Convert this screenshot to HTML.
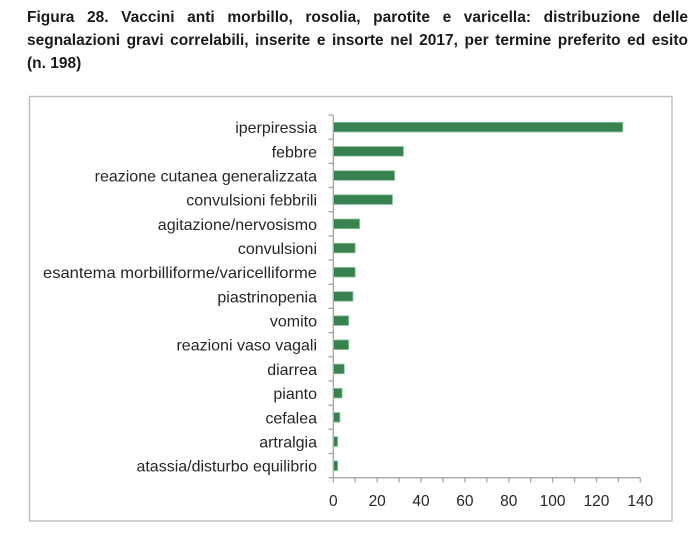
<!DOCTYPE html>
<html>
<head>
<meta charset="utf-8">
<style>
  html, body { margin: 0; padding: 0; background: #ffffff; }
  body { width: 700px; height: 553px; position: relative; overflow: hidden; }
  .title {
    position: absolute; left: 27px; top: 6px; width: 661px;
    font-family: "Liberation Sans", sans-serif; font-weight: bold;
    font-size: 15.5px; line-height: 23px; color: #1a1a1a;
  }
  .title div { white-space: nowrap; }
  .j { text-align: justify; text-align-last: justify; }
  svg { position: absolute; left: 0; top: 0; }
</style>
</head>
<body>
<div class="title">
  <div class="j">Figura 28. Vaccini anti morbillo, rosolia, parotite e varicella: distribuzione delle</div>
  <div class="j">segnalazioni gravi correlabili, inserite e insorte nel 2017, per termine preferito ed esito</div>
  <div>(n. 198)</div>
</div>
<svg width="700" height="553" viewBox="0 0 700 553" xmlns="http://www.w3.org/2000/svg">
  <!-- frame -->
  <rect x="29.5" y="96.5" width="642.5" height="424.5" fill="#ffffff" stroke="#bfbfbf" stroke-width="1.4"/>

  <!-- bars -->
  <g fill="#3a8150" stroke="#8fcca6" stroke-width="0.8">
    <rect x="333.3" y="122.3" width="289.5" height="9.7"/>
    <rect x="333.3" y="146.5" width="70.2" height="9.7"/>
    <rect x="333.3" y="170.7" width="61.4" height="9.7"/>
    <rect x="333.3" y="194.8" width="59.2" height="9.7"/>
    <rect x="333.3" y="219.0" width="26.3" height="9.7"/>
    <rect x="333.3" y="243.2" width="21.9" height="9.7"/>
    <rect x="333.3" y="267.4" width="21.9" height="9.7"/>
    <rect x="333.3" y="291.6" width="19.7" height="9.7"/>
    <rect x="333.3" y="315.8" width="15.4" height="9.7"/>
    <rect x="333.3" y="339.9" width="15.4" height="9.7"/>
    <rect x="333.3" y="364.1" width="11.0" height="9.7"/>
    <rect x="333.3" y="388.3" width="8.8" height="9.7"/>
    <rect x="333.3" y="412.5" width="6.6" height="9.7"/>
    <rect x="333.3" y="436.7" width="4.4" height="9.7"/>
    <rect x="333.3" y="460.9" width="4.4" height="9.7"/>
  </g>

  <!-- axes -->
  <g stroke="#a6a6a6" stroke-width="1.3" fill="none">
    <line x1="333.3" y1="115" x2="333.3" y2="477.7"/>
    <line x1="333.3" y1="477.7" x2="640.3" y2="477.7"/>
    <!-- y ticks -->
    <line x1="328.5" y1="115.0" x2="333.3" y2="115.0"/>
    <line x1="328.5" y1="139.2" x2="333.3" y2="139.2"/>
    <line x1="328.5" y1="163.4" x2="333.3" y2="163.4"/>
    <line x1="328.5" y1="187.5" x2="333.3" y2="187.5"/>
    <line x1="328.5" y1="211.7" x2="333.3" y2="211.7"/>
    <line x1="328.5" y1="235.9" x2="333.3" y2="235.9"/>
    <line x1="328.5" y1="260.1" x2="333.3" y2="260.1"/>
    <line x1="328.5" y1="284.3" x2="333.3" y2="284.3"/>
    <line x1="328.5" y1="308.4" x2="333.3" y2="308.4"/>
    <line x1="328.5" y1="332.6" x2="333.3" y2="332.6"/>
    <line x1="328.5" y1="356.8" x2="333.3" y2="356.8"/>
    <line x1="328.5" y1="381.0" x2="333.3" y2="381.0"/>
    <line x1="328.5" y1="405.2" x2="333.3" y2="405.2"/>
    <line x1="328.5" y1="429.3" x2="333.3" y2="429.3"/>
    <line x1="328.5" y1="453.5" x2="333.3" y2="453.5"/>
    <line x1="328.5" y1="477.7" x2="333.3" y2="477.7"/>
    <!-- x ticks -->
    <line x1="333.3" y1="477.7" x2="333.3" y2="482.5"/>
    <line x1="355.2" y1="477.7" x2="355.2" y2="482.5"/>
    <line x1="377.2" y1="477.7" x2="377.2" y2="482.5"/>
    <line x1="399.1" y1="477.7" x2="399.1" y2="482.5"/>
    <line x1="421.0" y1="477.7" x2="421.0" y2="482.5"/>
    <line x1="443.0" y1="477.7" x2="443.0" y2="482.5"/>
    <line x1="464.9" y1="477.7" x2="464.9" y2="482.5"/>
    <line x1="486.8" y1="477.7" x2="486.8" y2="482.5"/>
    <line x1="508.8" y1="477.7" x2="508.8" y2="482.5"/>
    <line x1="530.7" y1="477.7" x2="530.7" y2="482.5"/>
    <line x1="552.6" y1="477.7" x2="552.6" y2="482.5"/>
    <line x1="574.6" y1="477.7" x2="574.6" y2="482.5"/>
    <line x1="596.5" y1="477.7" x2="596.5" y2="482.5"/>
    <line x1="618.4" y1="477.7" x2="618.4" y2="482.5"/>
    <line x1="640.3" y1="477.7" x2="640.3" y2="482.5"/>
  </g>

  <!-- category labels -->
  <g font-family="Liberation Sans, sans-serif" font-size="16" fill="#262626" text-anchor="end">
    <text x="317" y="133.1">iperpiressia</text>
    <text x="317" y="157.3">febbre</text>
    <text x="317" y="181.5">reazione cutanea generalizzata</text>
    <text x="317" y="205.6">convulsioni febbrili</text>
    <text x="317" y="229.8">agitazione/nervosismo</text>
    <text x="317" y="254.0">convulsioni</text>
    <text x="317" y="278.2" textLength="274" lengthAdjust="spacingAndGlyphs">esantema morbilliforme/varicelliforme</text>
    <text x="317" y="302.4">piastrinopenia</text>
    <text x="317" y="326.5">vomito</text>
    <text x="317" y="350.7">reazioni vaso vagali</text>
    <text x="317" y="374.9">diarrea</text>
    <text x="317" y="399.1">pianto</text>
    <text x="317" y="423.3">cefalea</text>
    <text x="317" y="447.4">artralgia</text>
    <text x="317" y="471.6">atassia/disturbo equilibrio</text>
  </g>

  <!-- x tick labels -->
  <g font-family="Liberation Sans, sans-serif" font-size="15.5" fill="#262626" text-anchor="middle">
    <text x="333.3" y="506">0</text>
    <text x="377.2" y="506">20</text>
    <text x="421.0" y="506">40</text>
    <text x="464.9" y="506">60</text>
    <text x="508.8" y="506">80</text>
    <text x="552.6" y="506">100</text>
    <text x="596.5" y="506">120</text>
    <text x="640.3" y="506">140</text>
  </g>
</svg>
</body>
</html>
